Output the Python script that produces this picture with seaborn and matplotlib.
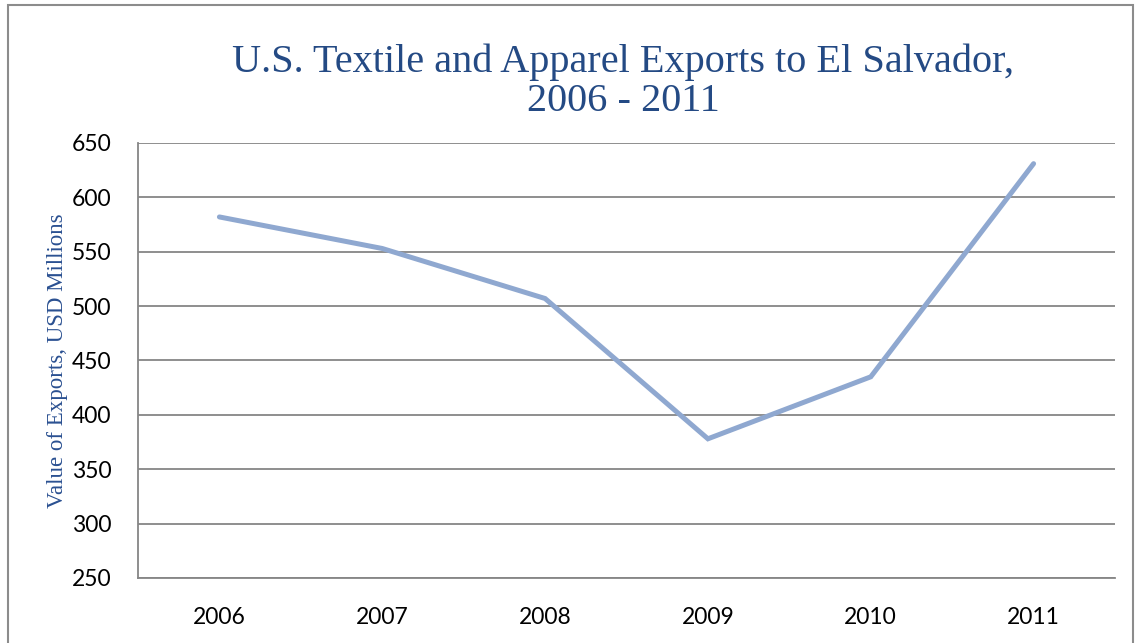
import pandas as pd
import seaborn as sns
import matplotlib.pyplot as plt
from matplotlib.patches import Rectangle

# Values
years = ["2006", "2007", "2008", "2009", "2010", "2011"]
exports = [582, 553, 507, 378, 435, 631]
y_ticks = [250, 300, 350, 400, 450, 500, 550, 600, 650]

df = pd.DataFrame({"year": years, "exports": exports})

sns.set_style("white")
fig = plt.figure(figsize=(11.35, 6.43), dpi=100)
ax = fig.add_axes([138 / 1135, 1 - 578 / 643, (1115 - 138) / 1135, (578 - 143) / 643])

sns.lineplot(data=df, x="year", y="exports", ax=ax, color="#8FA8D0",
             linewidth=3.6, solid_capstyle="round", solid_joinstyle="miter", sort=False)

ax.set_xlim(-0.5, len(years) - 0.5)
ax.set_ylim(250, 650)
ax.set_yticks(y_ticks)
ax.yaxis.grid(True, color="#868686", linewidth=1.3)
ax.set_axisbelow(True)
for side in ["top", "right"]:
    ax.spines[side].set_visible(False)
for side in ["left", "bottom"]:
    ax.spines[side].set_color("#868686")
    ax.spines[side].set_linewidth(1.3)
ax.tick_params(length=0, labelsize=16.5, labelcolor="black")
ax.tick_params(axis="y", pad=19)
ax.tick_params(axis="x", pad=21)
for lab in ax.get_xticklabels() + ax.get_yticklabels():
    lab.set_fontfamily("Lato")
ax.set_xlabel("")
ax.set_ylabel("Value of Exports, USD Millions", family="Liberation Serif",
              color="#2A5091", fontsize=16.5, labelpad=2.5)

fig.text(623 / 1135, 1 - 82 / 643,
         "U.S. Textile and Apparel Exports to El Salvador,\n2006 - 2011",
         ha="center", va="center", family="Liberation Serif", color="#244A84",
         fontsize=29, linespacing=1.07)

# outer chart border
fig.patches.append(Rectangle((8 / 1135, -0.01), (1133 - 8) / 1135, 1 - 5 / 643 + 0.01,
                             transform=fig.transFigure, fill=False,
                             edgecolor="#8C8C8C", linewidth=1.5))

fig.savefig("out.png", dpi=100)
